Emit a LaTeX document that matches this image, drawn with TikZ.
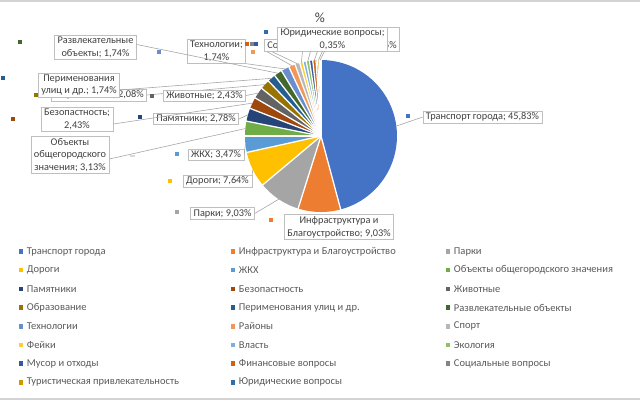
\documentclass[tikz,border=0pt]{standalone}
\usepackage{fontspec}
\setmainfont{Carlito}
\definecolor{c1}{HTML}{4472C4}
\definecolor{c2}{HTML}{ED7D31}
\definecolor{c3}{HTML}{A5A5A5}
\definecolor{c4}{HTML}{FFC000}
\definecolor{c5}{HTML}{5B9BD5}
\definecolor{c6}{HTML}{70AD47}
\definecolor{c7}{HTML}{264478}
\definecolor{c8}{HTML}{9E480E}
\definecolor{c9}{HTML}{636363}
\definecolor{c10}{HTML}{997300}
\definecolor{c11}{HTML}{255E91}
\definecolor{c12}{HTML}{43682B}
\definecolor{c13}{HTML}{698ED0}
\definecolor{c14}{HTML}{F1975A}
\definecolor{c15}{HTML}{B7B7B7}
\definecolor{c16}{HTML}{FFCD33}
\definecolor{c17}{HTML}{7CAFDD}
\definecolor{c18}{HTML}{8CC168}
\definecolor{c19}{HTML}{335AA1}
\definecolor{c20}{HTML}{D26012}
\definecolor{c21}{HTML}{848484}
\definecolor{c22}{HTML}{CC9A00}
\definecolor{c23}{HTML}{2F6EAA}
\definecolor{boxgray}{HTML}{BFBFBF}
\definecolor{leadgray}{HTML}{A6A6A6}
\definecolor{txt}{HTML}{404040}
\definecolor{legtxt}{HTML}{595959}
\definecolor{frame}{HTML}{D4D4D4}
\tikzset{
  lbl/.style={draw=boxgray, fill=white, line width=0.6pt, inner xsep=3pt, inner ysep=1.5pt,
    align=center, font=\fontsize{10.3}{12.8}\selectfont, text=txt},
  mk/.style={minimum size=4pt, inner sep=0pt, outer sep=0pt},
  lmk/.style={minimum size=4.5pt, inner sep=0pt, outer sep=0pt},
  leg/.style={anchor=west, inner sep=0pt, font=\fontsize{10.5}{12}\selectfont, text=legtxt},
  lead/.style={draw=leadgray, line width=0.6pt},
}
\begin{document}
\begin{tikzpicture}[x=1pt,y=-1pt]
\useasboundingbox (0,0) rectangle (640,400);
\draw[frame, line width=1.5pt] (0,0.75) -- (640,0.75);
\draw[frame, line width=2.5pt] (0,398.75) -- (640,398.75);
% pie
\coordinate (C) at (321,136);
\foreach \i/\a/\b in {1/0/45.83, 2/45.83/54.86, 3/54.86/63.89, 4/63.89/71.53, 5/71.53/75.00,
  6/75.00/78.13, 7/78.13/80.91, 8/80.91/83.34, 9/83.34/85.77, 10/85.77/87.85, 11/87.85/89.59,
  12/89.59/91.33, 13/91.33/93.07, 14/93.07/94.46, 15/94.46/95.50, 16/95.50/96.19,
  17/96.19/96.88, 18/96.88/97.57, 19/97.57/98.26, 20/98.26/98.95, 21/98.95/99.30,
  22/99.30/99.65, 23/99.65/100}{
  \pgfmathsetmacro\sa{3.6*\a}
  \pgfmathsetmacro\sb{3.6*\b}
  \pgfmathsetmacro\sm{1.8*(\a+\b)}
  \fill[c\i] (C) -- plot[domain=\sa:\sb, samples=40, variable=\t] ({321+76*sin(\t)},{136-76*cos(\t)}) -- cycle;
  \coordinate (p\i) at ({321+76*sin(\sm)},{136-76*cos(\sm)});
}
\foreach \b in {0,45.83,54.86,63.89,71.53,75.00,78.13,80.91,83.34,85.77,87.85,89.59,91.33,
  93.07,94.46,95.50,96.19,96.88,97.57,98.26,98.95,99.30,99.65}{
  \draw[white, line width=1.3pt] (C) -- ({321+77*sin(3.6*\b)},{136-77*cos(3.6*\b)});
}
% title
\node[font=\fontsize{14}{16}\selectfont, text=txt, inner sep=0pt] (title) at (320,18) {\%};
% hidden labels (behind)
\node[lbl, anchor=west] (lSoc) at (264,45.5) {Социальные вопросы; 0,35\%};
\node[lbl, anchor=east] (lTur) at (400,39.5) {Туристическая\\привлекательность; 0,35\%};
\node[lbl, anchor=east] (lEd) at (147,95) {Образование; 2,08\%};
% leaders
\draw[lead] (lSoc.south west) ++(3,0) -- (p14);
\draw[lead] (lSoc.south west) ++(8,0) -- (p15);
\draw[lead] (lEd.east) -- (p10);
% visible labels
\node[lbl] (lTr) at (482.5,117) {Транспорт города; 45,83\%};
\node[lbl] (lIn) at (339,227) {Инфраструктура и\\Благоустройство; 9,03\%};
\node[lbl] (lPa) at (222.5,213.5) {Парки; 9,03\%};
\node[lbl] (lRo) at (217.5,181) {Дороги; 7,64\%};
\node[lbl] (lZh) at (216,154.5) {ЖКХ; 3,47\%};
\node[lbl] (lOb) at (70,155) {Объекты\\общегородского\\значения; 3,13\%};
\node[lbl] (lMo) at (196,119) {Памятники; 2,78\%};
\node[lbl] (lBe) at (77,119) {Безопастность;\\2,43\%};
\node[lbl] (lZv) at (204.5,95.5) {Животные; 2,43\%};
\node[lbl] (lPe) at (79,85) {Перименования\\улиц и др.; 1,74\%};
\node[lbl] (lRz) at (95.5,47.5) {Развлекательные\\объекты; 1,74\%};
\node[lbl] (lTe) at (216.5,51.5) {Технологии;\\1,74\%};
\node[lbl] (lYu) at (332.5,39) {Юридические вопросы;\\0,35\%};
% leader lines
\draw[lead] (lTr.west) -- (p1);
\draw[lead] (lPa.east) -- (p3);
\draw[lead] (lRo.north east) -- (p4);
\draw[lead] (lZh.east) -- (p5);
\draw[lead] ([yshift=-4pt]lOb.east) -- (p6);
\draw[lead] (lMo.east) -- (p7);
\draw[lead] ([yshift=-5pt]lBe.east) -- (p8);
\draw[lead] (lZv.east) -- (p9);
\draw[lead] ([yshift=-5pt]lPe.east) -- (p11);
\draw[lead] ([yshift=3pt]lRz.east) -- (p12);
\draw[lead] (lTe.south east) -- (p13);
\draw[lead] (lYu.south) ++(-30,0) -- (p16);
\draw[lead] (lYu.south) ++(-22,0) -- (p18);
\draw[lead] (lYu.south) ++(-15,0) -- (p20);
\draw[lead] (lYu.south) ++(-10,0) -- (p22);
\draw[lead] (lYu.south) ++(-8,0) -- (p23);
% label markers
\node[mk, fill=c1] (m1) at (408,116) {};
\node[mk, fill=c2] (m2) at (271,220) {};
\node[mk, fill=c3] (m3) at (177,212) {};
\node[mk, fill=c4] (m4) at (170,181) {};
\node[mk, fill=c5] (m5) at (177,154) {};
\node[minimum width=5pt, minimum height=2pt, inner sep=0pt, fill=black!15] (m6) at (132,156) {};
\node[mk, fill=c7] (m7) at (140,117) {};
\node[mk, fill=c8] (m8) at (13,119) {};
\node[mk, fill=c9] (m9) at (152,96) {};
\node[mk, fill=c10] (m10) at (36,95) {};
\node[mk, fill=c11] (m11) at (3,78) {};
\node[mk, fill=c12] (m12) at (20,42) {};
\node[mk, fill=c13] (m13) at (159,52) {};
\node[mk, fill=c20] (m20) at (247,44) {};
\node[mk, fill=c21] (m21) at (251.5,44) {};
\node[mk, fill=c19] (m19) at (256,44) {};
\node[mk, fill=c14] (m14) at (253,51.5) {};
\node[mk, fill=c23] (m23) at (266,32) {};
% legend
\foreach \i/\t/\cx/\ry in {
  1/Транспорт города/21/0, 2/Инфраструктура и Благоустройство/233/0, 3/Парки/448/0,
  4/Дороги/21/1, 5/ЖКХ/233/1, 6/Объекты общегородского значения/448/1,
  7/Памятники/21/2, 8/Безопастность/233/2, 9/Животные/448/2,
  10/Образование/21/3, 11/Перименования улиц и др./233/3, 12/Развлекательные объекты/448/3,
  13/Технологии/21/4, 14/Районы/233/4, 15/Спорт/448/4,
  16/Фейки/21/5, 17/Власть/233/5, 18/Экология/448/5,
  19/Мусор и отходы/21/6, 20/Финансовые вопросы/233/6, 21/Социальные вопросы/448/6,
  22/Туристическая привлекательность/21/7, 23/Юридические вопросы/233/7}{
  \node[lmk, fill=c\i] (lk\i) at (\cx, 251.5+18.7*\ry) {};
  \node[leg] (lt\i) at ([xshift=3.5pt]lk\i.east) {\t};
}
\end{tikzpicture}
\end{document}
